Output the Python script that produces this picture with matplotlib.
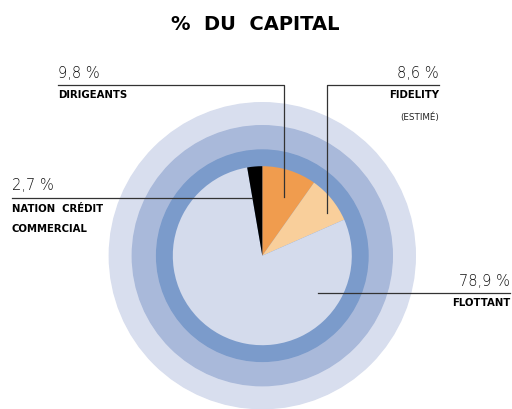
import matplotlib.pyplot as plt
from matplotlib.patches import Circle

# Data
labels = ["DIRIGEANTS", "FIDELITY", "FLOTTANT", "NATION  CRÉDIT\nCOMMERCIAL"]
values = [9.8, 8.6, 78.9, 2.7]
value_text = ["9,8 %", "8,6 %", "78,9 %", "2,7 %"]
colors = ["#f09c4e", "#f9cf9b", "#d4dbec", "#000000"]

W, H = 512, 409

fig = plt.figure(figsize=(W / 100, H / 100), dpi=100)
ax = fig.add_axes([0, 0, 1, 1])


def y(v):
    # image coords (top-down) -> data coords
    return H - v


cx, cy = 262.3, y(255.7)

# background rings
ax.add_patch(Circle((cx, cy), 153, color="#d8deee", zorder=1))
ax.add_patch(Circle((cx, cy), 130, color="#a9b9da", zorder=2))
ax.add_patch(Circle((cx, cy), 105.7, color="#7b9bcb", zorder=3))

wedges, _ = ax.pie(values, colors=colors, startangle=90, counterclock=False,
                   center=(cx, cy), radius=89.5, frame=True,
                   wedgeprops=dict(linewidth=0))
for w in wedges:
    w.set_zorder(4)
ax.set_xlim(0, W)
ax.set_ylim(0, H)
ax.set_aspect("equal")
ax.axis("off")

# title
ax.text(255, y(24), "%  DU  CAPITAL", ha="center", va="center",
        fontsize=14, fontweight="heavy", family="DejaVu Sans")

lc = "#333333"
lw = 0.9
num_kw = dict(fontsize=10.5, family="DejaVu Sans", fontweight="light", color="#111111")
lab_kw = dict(fontsize=7.3, family="DejaVu Sans", fontweight="bold", color="#000000")

# Dirigeants
ax.plot([58, 284.3, 284.3], [y(85), y(85), y(196.7)], color=lc, lw=lw, zorder=6)
ax.text(58, y(73), value_text[0], ha="left", va="center", **num_kw)
ax.text(58, y(95), labels[0], ha="left", va="center", **lab_kw)

# Fidelity
ax.plot([439, 326.7, 326.7], [y(85), y(85), y(213)], color=lc, lw=lw, zorder=6)
ax.text(439, y(73), value_text[1], ha="right", va="center", **num_kw)
ax.text(439, y(95), labels[1], ha="right", va="center", **lab_kw)
ax.text(439, y(117), "(ESTIMÉ)", ha="right", va="center", fontsize=6.3,
        family="DejaVu Sans", color="#222222")

# Nation Credit Commercial
ax.plot([12, 251.7], [y(197.7), y(197.7)], color=lc, lw=lw, zorder=6)
ax.text(12, y(185), value_text[3], ha="left", va="center", **num_kw)
ax.text(12, y(208.5), "NATION  CRÉDIT", ha="left", va="center", **lab_kw)
ax.text(12, y(229), "COMMERCIAL", ha="left", va="center", **lab_kw)

# Flottant
ax.plot([318, 510], [y(293.3), y(293.3)], color=lc, lw=lw, zorder=6)
ax.text(510, y(281.5), value_text[2], ha="right", va="center", **num_kw)
ax.text(510, y(303.5), labels[2], ha="right", va="center", **lab_kw)

fig.savefig("out.png", dpi=100)
